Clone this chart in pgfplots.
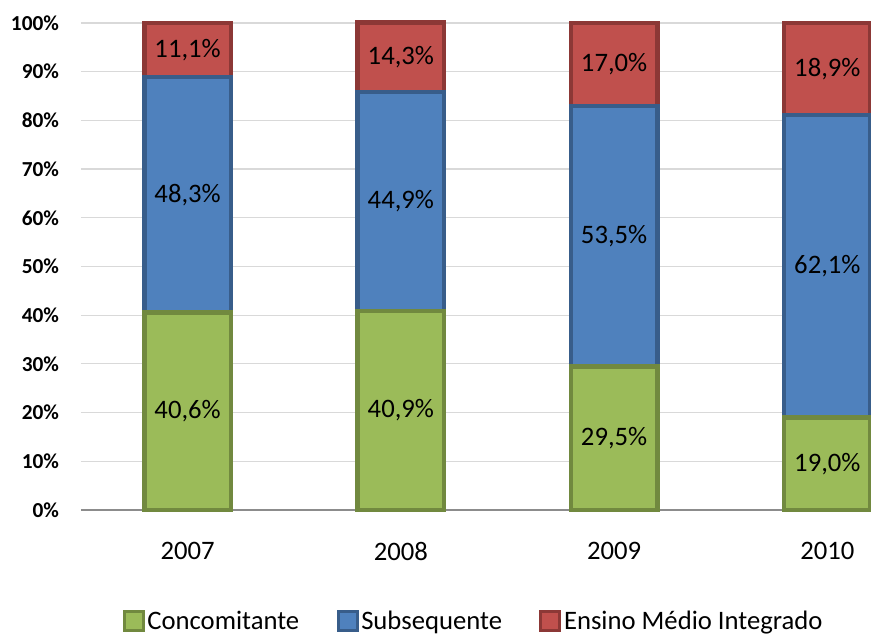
\documentclass[border=0pt]{standalone}
\usepackage{fontspec}
\setmainfont{Carlito}
\usepackage{pgfplots}
\usepackage{pgfplotstable}
\pgfplotsset{compat=1.18}
\definecolor{cgreen}{HTML}{9BBB59}\definecolor{cgreenD}{HTML}{71893F}
\definecolor{cblue}{HTML}{4F81BD}\definecolor{cblueD}{HTML}{385D8A}
\definecolor{cred}{HTML}{C0504D}\definecolor{credD}{HTML}{8C3836}
\definecolor{gridc}{HTML}{D9D9D9}
\pgfplotstableread{
x c s e
0 40.6 48.3 11.1
1 40.9 44.9 14.3
2 29.5 53.5 17.0
3 19.0 62.1 18.9
}\data
\pgfplotsset{
  mybase/.style={scale only axis, width=639.75pt, height=365.25pt,
    xmin=-0.5, xmax=3.5, ymin=0, ymax=100, at={(0,0)}, anchor=south west, clip=false,
    /pgf/number format/assume math mode=true},
  sq/.style={legend image code/.code={\draw[##1, line width=2.2pt] (0pt,-7.15pt) rectangle (14.3pt,7.15pt);}},
  lbl/.style={draw=none, mark=none, point meta=explicit,
    nodes near coords={\pgfmathprintnumber[fixed, fixed zerofill, precision=1, use comma, assume math mode=true]{\pgfplotspointmeta}\%},
    every node near coord/.append style={anchor=center, font=\fontsize{20}{24}\selectfont, text=black}}
}
\begin{document}
\begin{tikzpicture}
\begin{axis}[mybase, ybar stacked, bar width=65pt,
  axis x line*=bottom, axis y line*=left,
  y axis line style={draw=none}, x axis line style={draw=gray!90, line width=0.9pt},
  major tick length=0pt,
  ymajorgrids, grid style={gridc, line width=0.9pt},
  xtick={0,1,2,3}, xticklabels={2007,2008,2009,2010},
  xticklabel style={font=\fontsize{20}{24}\selectfont, yshift=-20.5pt},
  ytick={0,10,...,100}, yticklabel={\pgfmathprintnumber{\tick}\%},
  yticklabel style={font=\fontsize{16}{19}\selectfont\bfseries, xshift=-13pt},
  legend style={at={(0.4607,-0.228)}, anchor=center, legend columns=3, draw=none, fill=none,
    font=\fontsize{20}{24}\selectfont, /tikz/every even column/.append style={column sep=26pt}},
  legend cell align=left]
\addplot[fill=cgreen, draw=cgreenD, line width=3.4pt, sq] table[x=x, y=c]{\data};
\addplot[fill=cblue, draw=cblueD, line width=3.4pt, sq] table[x=x, y=s]{\data};
\addplot[fill=cred, draw=credD, line width=3.4pt, sq] table[x=x, y=e]{\data};
\legend{Concomitante, Subsequente, Ensino Médio Integrado}
\end{axis}
\begin{axis}[mybase, hide axis]
\addplot[lbl] table[x=x, y expr=\thisrow{c}/2, meta=c]{\data};
\addplot[lbl] table[x=x, y expr=\thisrow{c}+\thisrow{s}/2, meta=s]{\data};
\addplot[lbl] table[x=x, y expr=\thisrow{c}+\thisrow{s}+\thisrow{e}/2, meta=e]{\data};
\end{axis}
\pgfresetboundingbox
\useasboundingbox (-60.75pt,-93.75pt) rectangle (592.5pt,382.5pt);
\end{tikzpicture}
\end{document}
